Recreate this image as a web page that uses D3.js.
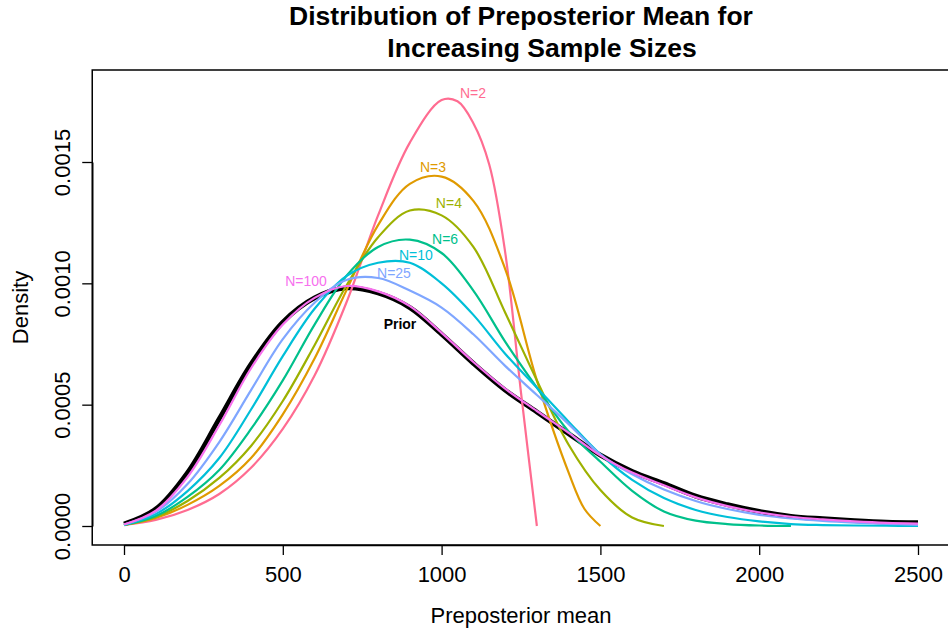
<!DOCTYPE html>
<html lang="en">
<head>
<meta charset="UTF-8">
<title>Distribution of Preposterior Mean</title>
<script src="https://d3js.org/d3.v7.min.js"></script>
<style>
  body { margin: 0; background: #ffffff; }
  svg { display: block; font-family: "Liberation Sans", Arial, sans-serif; }
</style>
</head>
<body>
<svg id="chart" width="948" height="633"></svg>
<script>
// values
const xFull = [0,100,200,300,400,500,600,700,800,900,1000,1100,1200,1300,1400,1500,1600,1700,1800,1900,2000,2100,2200,2300,2400,2500];
const priorVals = [0.000008,0.00007,0.00022,0.000442,0.000667,0.00084,0.00094,0.000981,0.00096,0.0009,0.00079,0.00067,0.00056,0.00047,0.00038,0.000292,0.000225,0.000175,0.000123,0.000088,0.00006,0.00004,0.00003,0.000022,0.000016,0.000014];
const n100Vals = [0.000006,0.000063,0.000202,0.000415,0.00065,0.00083,0.00094,0.000989,0.000967,0.000906,0.000796,0.000676,0.000566,0.000474,0.000384,0.00029,0.00022,0.000168,0.000118,0.000082,0.000056,0.000038,0.000027,0.000019,0.000013,0.00001];
const n25Vals = [0.000006,0.000058,0.000173,0.000346,0.00056,0.00077,0.00092,0.001014,0.001022,0.00097,0.0009,0.00079,0.00066,0.00054,0.00042,0.000295,0.000213,0.00015,0.000103,0.00007,0.000046,0.000031,0.000021,0.000014,0.000009,0.000005];
const n10Vals = [0.000004,0.000049,0.000144,0.00028,0.00048,0.0007,0.000895,0.00103,0.001085,0.001085,0.001,0.00087,0.00071,0.00057,0.00043,0.000295,0.00019,0.000115,0.000066,0.000037,0.000019,0.000008,0.000004,0.000002,0.000001,0];

const xN6 = [0,100,200,300,400,500,600,700,800,900,1000,1100,1200,1300,1400,1500,1600,1700,1800,1900,2000,2100];
const n6Vals = [0.000004,0.000041,0.00012,0.000231,0.0004,0.0006,0.00083,0.00103,0.00115,0.00118,0.001125,0.00097,0.00076,0.00057,0.00039,0.000265,0.000145,0.00006,0.000022,0.000008,0.000002,0];

const xN4 = [0,100,200,300,400,500,600,700,800,900,1000,1100,1200,1300,1400,1500,1600,1700];
const n4Vals = [0.000004,0.000037,0.000103,0.000198,0.00033,0.000515,0.000745,0.00099,0.00119,0.0013,0.00128,0.00115,0.00088,0.0006,0.000335,0.000148,0.000035,0];

const xN3 = [0,100,200,300,400,500,600,700,800,900,1000,1100,1200,1300,1400,1450,1500];
const n3Vals = [0.000004,0.000033,0.000087,0.000165,0.00028,0.00046,0.00069,0.00097,0.00124,0.00141,0.00144,0.00134,0.00106,0.0006,0.00022,0.00007,0];

const xN2 = [0,100,200,300,400,500,600,700,800,900,1000,1050,1100,1150,1200,1250,1300];
const n2Vals = [0.000004,0.000025,0.000066,0.000132,0.00024,0.0004,0.00062,0.00092,0.00128,0.00158,0.001755,0.00175,0.00166,0.00149,0.00113,0.00055,0];

const xTicks = [0,500,1000,1500,2000,2500];
const yTicks = [0,0.0005,0.001,0.0015];

// curve labels: text, x, density
const labelText = ['N=2','N=3','N=4','N=6','N=10','N=25','N=100'];
const labelX = [1099,973,1023,1011,919,850,573];
const labelY = [0.001785,0.00148,0.001331,0.001183,0.001117,0.001043,0.00101];

const series = [
  { name: 'Prior', xs: xFull, ys: priorVals, color: '#000000', width: 4.8 },
  { name: 'N=2', xs: xN2, ys: n2Vals, color: '#FF6C91', width: 2.2 },
  { name: 'N=3', xs: xN3, ys: n3Vals, color: '#E09A00', width: 2.2 },
  { name: 'N=4', xs: xN4, ys: n4Vals, color: '#9DB100', width: 2.2 },
  { name: 'N=6', xs: xN6, ys: n6Vals, color: '#00C08B', width: 2.2 },
  { name: 'N=10', xs: xFull, ys: n10Vals, color: '#00BFD8', width: 2.2 },
  { name: 'N=25', xs: xFull, ys: n25Vals, color: '#7FA6FF', width: 2.2 },
  { name: 'N=100', xs: xFull, ys: n100Vals, color: '#F770EE', width: 2.2 }
];

const svg = d3.select('#chart');

const x = d3.scaleLinear().domain([0, 2500]).range([124, 918]);
const y = d3.scaleLinear().domain([0, 0.0015]).range([526, 162]);

const box = { left: x(-100), right: x(2600), top: 70, bottom: 545 };

// title
svg.append('text')
    .attr('x', 521).attr('y', 25)
    .attr('text-anchor', 'middle')
    .style('font-size', '26.5px').style('font-weight', 'bold')
    .text('Distribution of Preposterior Mean for');
svg.append('text')
    .attr('x', 542).attr('y', 57)
    .attr('text-anchor', 'middle')
    .style('font-size', '26.5px').style('font-weight', 'bold')
    .text('Increasing Sample Sizes');

// lines
const line = d3.line()
    .x(d => x(d[0]))
    .y(d => y(Math.max(0, d[1])))
    .curve(d3.curveCatmullRom.alpha(0.5));

svg.append('g').selectAll('path')
    .data(series)
    .join('path')
    .attr('d', s => line(s.xs.map((v, i) => [v, s.ys[i]])))
    .attr('fill', 'none')
    .attr('stroke', s => s.color)
    .attr('stroke-width', s => s.width)
    .attr('stroke-linejoin', 'round');

// curve labels
svg.append('g').selectAll('text')
    .data(labelText)
    .join('text')
    .attr('x', (d, i) => x(labelX[i]))
    .attr('y', (d, i) => y(labelY[i]))
    .attr('text-anchor', 'middle')
    .attr('dominant-baseline', 'central')
    .style('font-size', '14px')
    .attr('fill', d => series.find(s => s.name === d).color)
    .text(d => d);

svg.append('text')
    .attr('x', x(869)).attr('y', y(0.000833))
    .attr('text-anchor', 'middle')
    .attr('dominant-baseline', 'central')
    .style('font-size', '14px').style('font-weight', 'bold')
    .text('Prior');

// box
svg.append('rect')
    .attr('x', box.left).attr('y', box.top)
    .attr('width', box.right - box.left)
    .attr('height', box.bottom - box.top)
    .attr('fill', 'none')
    .attr('stroke', '#000')
    .attr('stroke-width', 1.5);

// x axis
const xAxis = svg.append('g')
    .attr('transform', `translate(0,${box.bottom})`)
    .call(d3.axisBottom(x).tickValues(xTicks).tickSize(10).tickSizeOuter(0).tickPadding(0).tickFormat(d3.format('d')));
xAxis.select('.domain').attr('stroke-width', 1.5);
xAxis.selectAll('.tick line').attr('stroke-width', 1.3);
xAxis.selectAll('text')
    .attr('y', 37).attr('dy', null)
    .style('font-size', '22px')
    .style('font-family', '"Liberation Sans", Arial, sans-serif');

// y axis
const yAxis = svg.append('g')
    .attr('transform', `translate(${box.left},0)`)
    .call(d3.axisLeft(y).tickValues(yTicks).tickSize(10).tickSizeOuter(0).tickFormat(d3.format('.4f')));
yAxis.select('.domain').attr('stroke-width', 1.5);
yAxis.selectAll('.tick line').attr('stroke-width', 1.3);
yAxis.selectAll('text')
    .attr('x', null).attr('dy', null)
    .attr('transform', `translate(${70 - box.left},0) rotate(-90)`)
    .attr('text-anchor', 'middle')
    .style('font-size', '22px')
    .style('font-family', '"Liberation Sans", Arial, sans-serif');

// axis titles
svg.append('text')
    .attr('x', 521).attr('y', 623)
    .attr('text-anchor', 'middle')
    .style('font-size', '22px')
    .text('Preposterior mean');

svg.append('text')
    .attr('transform', `translate(28,${(box.top + box.bottom) / 2}) rotate(-90)`)
    .attr('text-anchor', 'middle')
    .style('font-size', '22px')
    .text('Density');
</script>
</body>
</html>
